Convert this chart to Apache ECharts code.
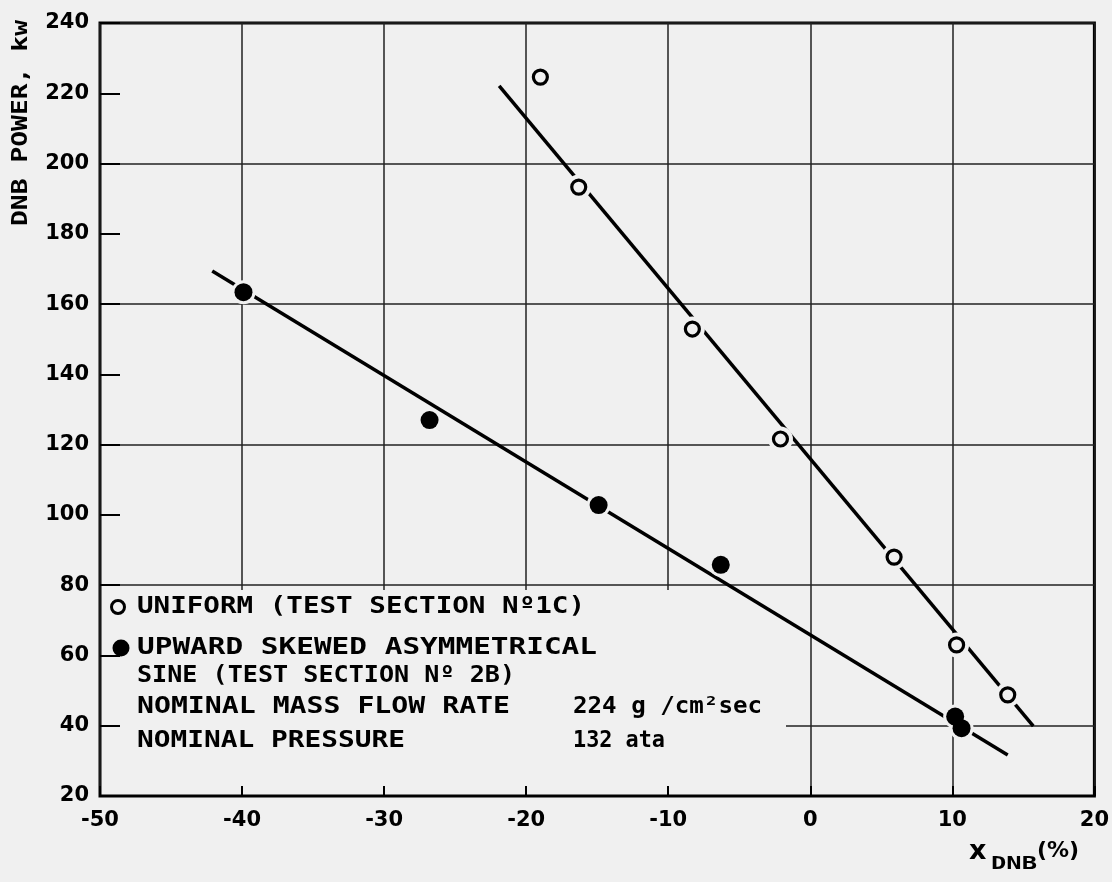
<!DOCTYPE html>
<html>
<head>
<meta charset="utf-8">
<script src="https://cdn.jsdelivr.net/npm/echarts@6/dist/echarts.min.js"></script>
<style>
html,body{margin:0;padding:0;background:#f0f0f0;}
#chart{width:1112px;height:882px;}
</style>
</head>
<body>
<div id="chart"></div>
<script>
// ---- data ----
const uniformX = [-19.0, -16.3, -8.3, -2.1, 5.9, 10.3, 13.9];
const uniformY = [224.6, 193.3, 152.9, 121.6, 88.0, 63.0, 48.8];
const skewedX  = [-39.9, -26.8, -14.9, -6.3, 10.2, 10.65];
const skewedY  = [163.4, 127.0, 102.8, 85.8, 42.6, 39.3];
const uniformFitX = [-21.9, 15.7];
const uniformFitY = [222.1, 39.9];
const skewedFitX  = [-42.1, 13.9];
const skewedFitY  = [169.4, 31.7];

const xMin = -50, xMax = 20, xStep = 10;
const yMin = 20, yMax = 240, yStep = 20;

const legendUniform = 'UNIFORM (TEST SECTION Nº1C)';
const legendSkewed1 = 'UPWARD SKEWED ASYMMETRICAL';
const legendSkewed2 = 'SINE (TEST SECTION Nº 2B)';
const noteFlowLabel = 'NOMINAL MASS FLOW RATE';
const noteFlowValue = '224 g /cm²sec';
const notePresLabel = 'NOMINAL PRESSURE';
const notePresValue = '132 ata';
const yName = 'DNB POWER, kw';
const xNameMain = 'x', xNameSub = 'DNB', xNameUnit = '(%)';

// ---- helpers ----
const BG = '#f0f0f0';
const MONO = '"DejaVu Sans Mono", monospace';
const SANS = '"DejaVu Sans", sans-serif';
const ctx = document.createElement('canvas').getContext('2d');
function measure(t, font){ ctx.font = font; return ctx.measureText(t).width; }
function fitText(t, x, y, w, size, opts){
  const font = 'bold ' + size + 'px ' + MONO;
  const s = w / measure(t, font);
  return Object.assign({
    type:'text', x:x, y:y, scaleX:s, z:10,
    style:{text:t, font:font, fill:'#000', align:'left', verticalAlign:'middle',
           textAlign:'left', textVerticalAlign:'middle'}
  }, opts || {});
}
function pairs(xs, ys){ return xs.map((v,i)=>[v, ys[i]]); }

const chart = echarts.init(document.getElementById('chart'), null, {renderer:'canvas'});

const axisLabelStyle = {fontFamily:SANS, fontWeight:'bold', fontSize:21, color:'#000'};

chart.setOption({
  animation:false,
  backgroundColor:BG,
  grid:{left:100, right:15, top:23, bottom:86, show:true, borderColor:'#000', borderWidth:3, backgroundColor:'transparent'},
  xAxis:[
    {type:'value', min:xMin, max:xMax, interval:xStep, z:0,
     axisLine:{show:false, onZero:false}, axisTick:{show:false}, axisLabel:{show:false},
     splitLine:{show:true, lineStyle:{color:'#222', width:1.5}}},
    {type:'value', min:xMin, max:xMax, interval:xStep, position:'bottom', z:6,
     axisLine:{show:false, onZero:false}, splitLine:{show:false},
     axisTick:{show:true, inside:true, length:10, lineStyle:{color:'#000', width:2}},
     axisLabel:Object.assign({margin:14}, axisLabelStyle)}
  ],
  yAxis:[
    {type:'value', min:yMin, max:yMax, interval:yStep, z:0,
     axisLine:{show:false, onZero:false}, axisTick:{show:false}, axisLabel:{show:false},
     splitLine:{show:true, lineStyle:{color:['rgba(0,0,0,0)','#222'], width:1.5}}},
    {type:'value', min:yMin, max:yMax, interval:yStep, position:'left', z:6,
     axisLine:{show:false, onZero:false}, splitLine:{show:false},
     axisTick:{show:true, inside:true, length:20, lineStyle:{color:'#000', width:2}},
     axisLabel:Object.assign({margin:11}, axisLabelStyle)}
  ],
  series:[
    {type:'line', name:'uniform fit', data:pairs(uniformFitX, uniformFitY), xAxisIndex:0, yAxisIndex:0,
     showSymbol:false, symbol:'none', z:2, lineStyle:{color:'#000', width:3.5}},
    {type:'line', name:'skewed fit', data:pairs(skewedFitX, skewedFitY), xAxisIndex:0, yAxisIndex:0,
     showSymbol:false, symbol:'none', z:2, lineStyle:{color:'#000', width:3.5}},
    {type:'scatter', name:'uniform halo', data:pairs(uniformX, uniformY), symbol:'circle', symbolSize:25, z:3,
     itemStyle:{color:BG, opacity:1}, silent:true},
    {type:'scatter', name:'skewed halo', data:pairs(skewedX, skewedY), symbol:'circle', symbolSize:24, z:3,
     itemStyle:{color:BG, opacity:1}, silent:true},
    {type:'scatter', name:'UNIFORM', data:pairs(uniformX, uniformY), symbol:'circle', symbolSize:14, z:4,
     itemStyle:{color:BG, borderColor:'#000', borderWidth:3.2, opacity:1}},
    {type:'scatter', name:'SKEWED', data:pairs(skewedX, skewedY), symbol:'circle', symbolSize:18, z:5,
     itemStyle:{color:'#000', opacity:1}}
  ],
  graphic:[
    {type:'rect', z:1, shape:{x:102, y:590, width:684, height:204}, style:{fill:BG}},
    {type:'circle', z:10, shape:{cx:118, cy:607, r:6.5}, style:{fill:BG, stroke:'#000', lineWidth:3}},
    {type:'circle', z:10, shape:{cx:121, cy:648, r:8.5}, style:{fill:'#000'}},
    fitText(legendUniform, 137, 607, 448, 23),
    fitText(legendSkewed1, 137, 648, 460, 23),
    fitText(legendSkewed2, 137, 676, 378, 23),
    fitText(noteFlowLabel, 137, 707, 373, 23),
    fitText(noteFlowValue, 573, 707, 189, 23),
    fitText(notePresLabel, 137, 741, 268, 23),
    fitText(notePresValue, 573, 741, 92, 23),
    fitText(yName, 21, 226, 206, 22, {rotation:Math.PI/2}),
    {type:'text', z:10, x:969, y:852, style:{text:xNameMain, font:'bold 27px '+SANS, fill:'#000', align:'left', verticalAlign:'middle', textAlign:'left', textVerticalAlign:'middle'}},
    fitText(xNameSub, 991, 865, 46, 17),
    {type:'text', z:10, x:1037, y:851, style:{text:xNameUnit, font:'bold 22px '+SANS, fill:'#000', align:'left', verticalAlign:'middle', textAlign:'left', textVerticalAlign:'middle'}}
  ]
});
</script>
</body>
</html>
